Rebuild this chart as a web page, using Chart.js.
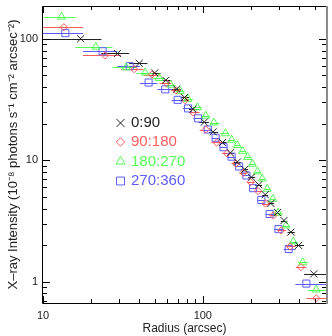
<!DOCTYPE html>
<html>
<head>
<meta charset="utf-8">
<script src="https://cdn.jsdelivr.net/npm/chart.js@4"></script>
<style>
  html, body { margin: 0; padding: 0; background: #fff; }
</style>
</head>
<body>
<canvas id="profile" width="332" height="336"></canvas>
<script>
// azimuthal sectors of the radial X-ray profile
const sectorNames = ['0:90', '90:180', '180:270', '270:360'];

// 0:90
const r0 = [17.2, 29.2, 40.0, 50.0, 58.7, 68.6, 76.9, 86.8, 102.2, 116.1, 132.9, 148.9, 164.4, 182.9, 201.5, 223.9, 245.9, 266.7, 293.3, 322.1, 355.8, 397.1, 494.7];
const i0 = [100, 75.6, 62.8, 52.3, 45.5, 38.5, 32.9, 26.3, 20.6, 17.1, 14.0, 11.5, 9.67, 8.41, 7.25, 6.28, 5.21, 4.41, 3.71, 3.19, 2.56, 1.99, 1.16];
const edges0 = [10.8, 23.2, 34.6, 45.0, 54.4, 63.7, 72.8, 81.9, 94.5, 109.2, 124.5, 140.9, 156.7, 173.7, 192.2, 212.7, 234.9, 256.3, 280.0, 307.7, 339.0, 376.5, 430, 600];

// 90:180
const r1 = [13.5, 24.5, 37.2, 48.0, 59.1, 68.1, 77.4, 86.8, 104.3, 122.0, 141.6, 160.9, 179.2, 199.3, 221.7, 246.6, 276.3, 309.6, 351.9, 411.2, 512.9];
const i1 = [124.4, 72.9, 56.2, 50.7, 43.3, 37.6, 31.2, 24.8, 17.9, 14.0, 11.4, 9.40, 7.88, 6.60, 5.58, 4.40, 3.51, 2.64, 1.95, 1.32, 0.73];
const edges1 = [10, 17.8, 30.8, 42.6, 53.6, 63.6, 72.8, 82.1, 95.6, 113.2, 131.8, 151.3, 170.1, 189.3, 210.5, 234.2, 261.5, 293.0, 330.8, 381.6, 445, 600];

// 180:270
const r2 = [13.05, 21.4, 33.1, 43.6, 53.3, 62.8, 72.3, 80.8, 92.5, 104.4, 117.2, 138.3, 151.7, 164.4, 177.4, 190.9, 204.4, 219.5, 235.6, 253.0, 274.3, 295.8, 331.4, 368.1, 421.9, 512.8];
const i2 = [151.4, 85.7, 58.0, 52.6, 47.4, 41.7, 36.9, 31.9, 27.2, 23.2, 20.4, 16.6, 14.7, 13.3, 11.9, 10.6, 9.32, 8.06, 7.04, 5.80, 4.79, 3.69, 2.90, 2.14, 1.44, 0.86];
const edges2 = [10.2, 16.0, 27.2, 38.4, 48.5, 58.1, 67.6, 76.6, 86.7, 98.5, 110.8, 127.8, 145.0, 158.1, 170.9, 184.2, 197.7, 212.0, 227.6, 244.3, 263.7, 285.1, 313.6, 349.8, 395, 455, 600];

// 270:360
const r3 = [13.8, 23.6, 34.9, 45.8, 58.2, 69.6, 80.8, 93.5, 107.4, 120.3, 134.8, 151.4, 168.7, 187.4, 206.5, 232.3, 261.8, 297.5, 344.6, 444.6];
const i3 = [111.2, 78.9, 59.4, 43.6, 38.3, 31.4, 26.7, 22.1, 17.9, 15.3, 12.8, 10.7, 8.88, 7.49, 5.89, 4.71, 3.61, 2.71, 1.86, 0.965];
const edges3 = [10, 17.8, 29.2, 40.4, 52.0, 63.9, 75.2, 87.2, 100.5, 113.9, 127.6, 143.1, 160.1, 178.1, 197.0, 219.4, 247.1, 279.7, 321.1, 380, 600];

// axis ticks
const xTickValues = [10, 20, 30, 40, 50, 60, 70, 80, 90, 100, 200, 300, 400, 500];
const xMajor = [10, 100];
const yTickValues = [0.7, 0.8, 0.9, 1, 2, 3, 4, 5, 6, 7, 8, 9, 10, 20, 30, 40, 50, 60, 70, 80, 90, 100];
const yMajor = [1, 10, 100];

const sectors = [
    { name: sectorNames[0], r: r0, inten: i0, edges: edges0, color: '#222222', style: 'crossRot', radius: 5 },
    { name: sectorNames[1], r: r1, inten: i1, edges: edges1, color: '#ff5c5c', style: 'rectRot', radius: 3.6 },
    { name: sectorNames[2], r: r2, inten: i2, edges: edges2, color: '#55ff55', style: 'triangle', radius: 4.6 },
    { name: sectorNames[3], r: r3, inten: i3, edges: edges3, color: '#5c5cff', style: 'rect', radius: 5 }
];

const FONT = '"Liberation Sans", Arial, sans-serif';

const profileExtras = {
    id: 'profileExtras',
    beforeDatasetsDraw(chart) {
        // horizontal error bars = radial bin widths
        const { ctx, chartArea: a, scales: { x, y } } = chart;
        ctx.save();
        ctx.beginPath();
        ctx.rect(a.left, a.top, a.right - a.left, a.bottom - a.top);
        ctx.clip();
        ctx.lineWidth = 1;
        sectors.forEach(s => {
            ctx.strokeStyle = s.color;
            s.r.forEach((r, k) => {
                const py = Math.round(y.getPixelForValue(s.inten[k])) + 0.5;
                ctx.beginPath();
                ctx.moveTo(x.getPixelForValue(s.edges[k]), py);
                ctx.lineTo(x.getPixelForValue(s.edges[k + 1]), py);
                ctx.stroke();
            });
        });
        ctx.restore();
    },
    afterDraw(chart) {
        const { ctx, chartArea: a, scales: { x, y } } = chart;
        ctx.save();

        // frame
        ctx.lineWidth = 1;
        ctx.strokeStyle = '#000';
        ctx.beginPath();
        ctx.moveTo(a.left - 0.5, a.top + 0.5);
        ctx.lineTo(a.left - 0.5, a.bottom + 0.5);
        ctx.lineTo(a.right, a.bottom + 0.5);
        ctx.moveTo(a.left - 0.5, a.top + 0.5);
        ctx.lineTo(a.right, a.top + 0.5);
        ctx.stroke();
        ctx.strokeStyle = '#8c8c8c';
        ctx.lineWidth = 2;
        ctx.beginPath();
        ctx.moveTo(a.right + 1, a.top);
        ctx.lineTo(a.right + 1, a.bottom + 1);
        ctx.stroke();

        // inward tick marks on all four sides
        ctx.lineWidth = 1;
        ctx.strokeStyle = '#000';
        ctx.beginPath();
        x.ticks.forEach(t => {
            const px = Math.round(x.getPixelForValue(t.value)) + 0.5;
            const len = xMajor.includes(t.value) ? 7 : 4;
            ctx.moveTo(px, a.bottom);
            ctx.lineTo(px, a.bottom - len);
            ctx.moveTo(px, a.top);
            ctx.lineTo(px, a.top + len);
        });
        y.ticks.forEach(t => {
            const py = Math.round(y.getPixelForValue(t.value)) + 0.5;
            const len = yMajor.includes(t.value) ? 7 : 4;
            ctx.moveTo(a.left, py);
            ctx.lineTo(a.left + len, py);
            ctx.moveTo(a.right, py);
            ctx.lineTo(a.right - len, py);
        });
        ctx.stroke();

        // legend inside the plot
        const lx = 120.5, textX = 131;
        const rows = [123, 142, 161.5, 181];
        ctx.font = '15px ' + FONT;
        ctx.textBaseline = 'middle';
        ctx.textAlign = 'left';
        sectors.forEach((s, k) => {
            ctx.strokeStyle = s.color;
            ctx.fillStyle = 'rgba(0,0,0,0)';
            Chart.helpers.drawPoint(ctx, { pointStyle: s.style, radius: s.radius + 0.6, borderWidth: 1, rotation: 0 }, lx, rows[k]);
            ctx.fillStyle = s.color;
            ctx.fillText(s.name, textX, rows[k]);
        });
        ctx.restore();
    }
};

new Chart(document.getElementById('profile'), {
    type: 'scatter',
    data: {
        datasets: sectors.map(s => ({
            label: s.name,
            data: s.r.map((r, k) => ({ x: r, y: s.inten[k] })),
            pointStyle: s.style,
            pointRadius: s.radius,
            pointHoverRadius: s.radius,
            pointBorderWidth: 1,
            pointBorderColor: s.color,
            pointBackgroundColor: 'rgba(0,0,0,0)'
        }))
    },
    options: {
        responsive: false,
        animation: false,
        devicePixelRatio: 1,
        layout: { padding: { left: 0, right: 2, top: 1, bottom: 0 } },
        plugins: { legend: { display: false }, tooltip: { enabled: false } },
        scales: {
            x: {
                type: 'logarithmic',
                min: 10,
                max: 590,
                grid: { display: false, drawTicks: false },
                border: { display: false },
                afterBuildTicks: s => { s.ticks = xTickValues.map(v => ({ value: v })); },
                afterFit: s => { s.height = 33; s.paddingLeft = 0; s.paddingRight = 0; },
                ticks: {
                    autoSkip: false,
                    maxRotation: 0,
                    padding: 6,
                    color: '#222',
                    font: { family: FONT, size: 11 },
                    callback: v => xMajor.includes(v) ? String(v) : ''
                },
                title: {
                    display: true,
                    text: 'Radius (arcsec)',
                    color: '#222',
                    font: { family: FONT, size: 12 },
                    padding: { top: 0, bottom: 0 }
                }
            },
            y: {
                type: 'logarithmic',
                min: 0.668,
                max: 186,
                grid: { display: false, drawTicks: false },
                border: { display: false },
                afterBuildTicks: s => { s.ticks = yTickValues.map(v => ({ value: v })); },
                afterFit: s => { s.width = 43; s.paddingTop = 0; s.paddingBottom = 0; },
                ticks: {
                    autoSkip: false,
                    padding: 5,
                    color: '#222',
                    font: { family: FONT, size: 11 },
                    callback: v => yMajor.includes(v) ? String(v) : ''
                },
                title: {
                    display: true,
                    text: 'X\u2013ray Intensity (10\u207B\u2078 photons s\u207B\u00B9 cm\u207B\u00B2 arcsec\u207B\u00B2)',
                    color: '#222',
                    font: { family: FONT, size: 13 },
                    padding: { top: 6, bottom: 0 }
                }
            }
        }
    },
    plugins: [profileExtras]
});
</script>
</body>
</html>
